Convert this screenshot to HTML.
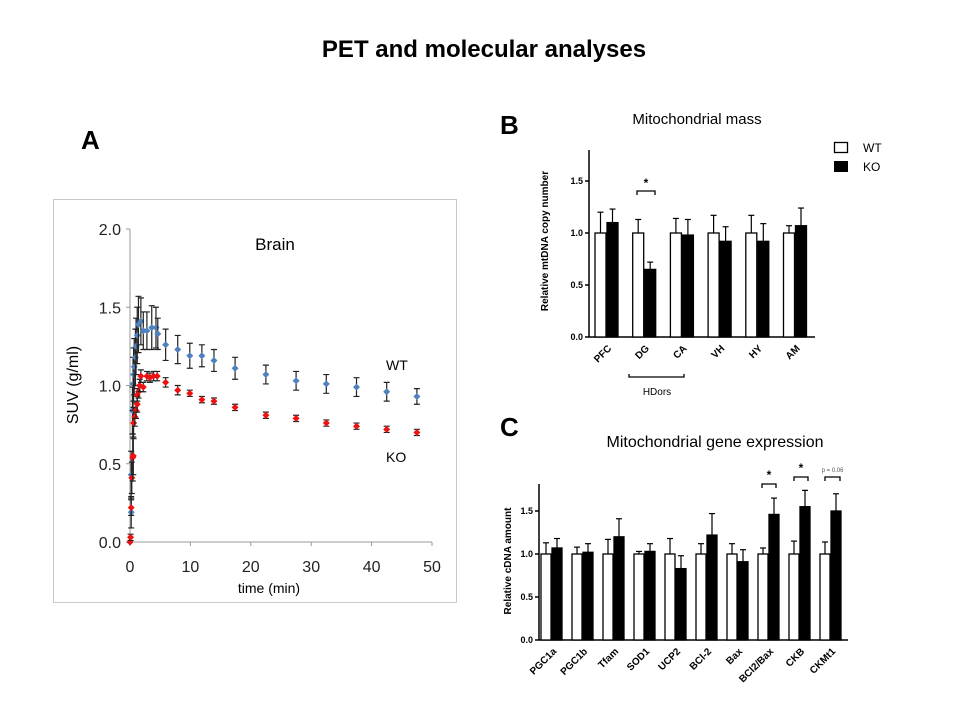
<!DOCTYPE html>
<html><head><meta charset="utf-8"><style>
body{margin:0;background:#fff;width:960px;height:720px;overflow:hidden;font-family:"Liberation Sans",sans-serif}
svg{position:absolute;left:0;top:0}
</style></head><body>
<svg id="s" width="960" height="720" xmlns="http://www.w3.org/2000/svg">
<text x="484" y="57" font-size="24" font-weight="bold" text-anchor="middle">PET and molecular analyses</text>
<text x="81" y="149" font-size="26" font-weight="bold">A</text>
<text x="500" y="134" font-size="26" font-weight="bold">B</text>
<text x="500" y="436" font-size="26" font-weight="bold">C</text>
<rect x="53.5" y="199.5" width="403" height="403" fill="#fff" stroke="#c8c8c8"/>
<text x="275" y="250" font-size="17" text-anchor="middle">Brain</text>
<text x="697" y="124" font-size="15" text-anchor="middle">Mitochondrial mass</text>
<text x="715" y="447" font-size="16" text-anchor="middle">Mitochondrial gene expression</text>
<g id="ga"></g>
<g id="gb"></g>
<g id="gc"></g>
</svg>
<script>
// Panel A data
const timeWT=[0,0.2,0.2,0.4,0.5,0.6,0.7,0.9,1.0,1.2,1.4,1.8,2.2,2.8,3.6,4.3,4.6,5.9,7.9,9.9,11.9,13.9,17.4,22.5,27.5,32.5,37.5,42.5,47.5];
const suvWT=[0.0,0.19,0.43,0.84,1.01,1.07,1.12,1.18,1.25,1.32,1.39,1.41,1.35,1.35,1.37,1.37,1.33,1.26,1.23,1.19,1.19,1.16,1.11,1.07,1.03,1.01,0.99,0.96,0.93];
const errWT=[0,0.1,0.15,0.15,0.17,0.17,0.18,0.18,0.18,0.18,0.18,0.15,0.12,0.12,0.14,0.13,0.1,0.1,0.09,0.08,0.07,0.07,0.07,0.06,0.06,0.06,0.06,0.06,0.05];
const timeKO=[0,0.1,0.2,0.3,0.45,0.55,0.6,0.8,1.0,1.2,1.2,1.4,1.6,1.8,2.2,2.8,3.3,3.9,4.5,5.9,7.9,9.9,11.9,13.9,17.4,22.5,27.5,32.5,37.5,42.5,47.5];
const suvKO=[0.0,0.03,0.22,0.41,0.54,0.55,0.76,0.8,0.84,0.88,0.94,0.96,1.0,1.06,0.99,1.06,1.05,1.06,1.06,1.02,0.97,0.95,0.91,0.9,0.86,0.81,0.79,0.76,0.74,0.72,0.7];
const errKO=[0,0.02,0.05,0.1,0.15,0.12,0.1,0.06,0.05,0.05,0.04,0.04,0.04,0.04,0.03,0.03,0.03,0.03,0.03,0.03,0.03,0.02,0.02,0.02,0.02,0.02,0.02,0.02,0.02,0.02,0.02];
const ticksAX=[0,10,20,30,40,50];
const ticksAY=[0.0,0.5,1.0,1.5,2.0];
// Panel B data
const catsB=["PFC","DG","CA","VH","HY","AM"];
const wtB=[1,1,1,1,1,1];
const wtErrB=[0.2,0.13,0.14,0.17,0.17,0.07];
const koB=[1.1,0.65,0.98,0.92,0.92,1.07];
const koErrB=[0.13,0.07,0.15,0.14,0.17,0.17];
const ticksB=[0.0,0.5,1.0,1.5];
// Panel C data
const catsC=["PGC1a","PGC1b","Tfam","SOD1","UCP2","BCl-2","Bax","BCl2/Bax","CKB","CKMt1"];
const wtC=[1,1,1,1,1,1,1,1,1,1];
const wtErrC=[0.13,0.08,0.17,0.03,0.18,0.12,0.12,0.07,0.15,0.14];
const koC=[1.07,1.02,1.2,1.03,0.83,1.22,0.91,1.46,1.55,1.5];
const koErrC=[0.11,0.1,0.21,0.09,0.15,0.25,0.14,0.19,0.19,0.2];
const ticksC=[0.0,0.5,1.0,1.5];

const NS="http://www.w3.org/2000/svg";
function mk(p,t,a,txt){const e=document.createElementNS(NS,t);for(const k in a)e.setAttribute(k,a[k]);if(txt!==undefined)e.textContent=txt;p.appendChild(e);return e;}

// ---- Panel A
const ga=document.getElementById('ga');
const ax=t=>130+t*(432-130)/50, ay=v=>542-v*(542-229)/2;
mk(ga,'line',{x1:130,y1:229,x2:130,y2:542,stroke:'#999'});
mk(ga,'line',{x1:130,y1:542,x2:432,y2:542,stroke:'#999'});
ticksAY.forEach(v=>{mk(ga,'line',{x1:126,y1:ay(v),x2:130,y2:ay(v),stroke:'#999'});
 const t=mk(ga,'text',{x:121,y:ay(v)+6,'font-size':16,'text-anchor':'end',fill:'#222'},v.toFixed(1));
 });
ticksAX.forEach(v=>{mk(ga,'line',{x1:ax(v),y1:542,x2:ax(v),y2:546,stroke:'#999'});
 const t=mk(ga,'text',{x:ax(v),y:572,'font-size':16,'text-anchor':'middle',fill:'#222'},v);
 });
let xt=mk(ga,'text',{x:269,y:593,'font-size':14,'text-anchor':'middle'},'time (min)');

let yt=mk(ga,'text',{x:0,y:0,'font-size':16,'text-anchor':'middle',transform:'translate(78,385) rotate(-90)'},'SUV (g/ml)');

function series(ts,vs,es,col,name){
 ts.forEach((t,i)=>{const x=ax(t),y=ay(vs[i]),e=es[i]*(313/2);
  if(e>0){mk(ga,'path',{d:`M${x} ${y-e}V${y+e}M${x-3} ${y-e}H${x+3}M${x-3} ${y+e}H${x+3}`,stroke:'#222','stroke-width':1.2,fill:'none'});}
  const p=mk(ga,'path',{d:`M${x} ${y-3.5}L${x+3.5} ${y}L${x} ${y+3.5}L${x-3.5} ${y}Z`,fill:col});
  });
}
series(timeWT,suvWT,errWT,'#4f81bd','wt-point');
series(timeKO,suvKO,errKO,'#ee1111','ko-point');
let l1=mk(ga,'text',{x:386,y:370,'font-size':14},'WT');
let l2=mk(ga,'text',{x:386,y:462,'font-size':14},'KO');

// ---- bar chart helper
function bars(g,cats,wt,we,ko,ke,ticks,o){
 const by=v=>o.y0-v*o.k;
 mk(g,'line',{x1:o.x0,y1:o.top,x2:o.x0,y2:o.y0,stroke:'#000','stroke-width':1.5});
 mk(g,'line',{x1:o.x0,y1:o.y0,x2:o.xe,y2:o.y0,stroke:'#000','stroke-width':1.5});
 ticks.forEach(v=>{mk(g,'line',{x1:o.x0-4,y1:by(v),x2:o.x0,y2:by(v),stroke:'#000','stroke-width':1.5});
  const t=mk(g,'text',{x:o.x0-6,y:by(v)+3,'font-size':9,'font-weight':'bold','text-anchor':'end'},v.toFixed(1));
  });
 cats.forEach((c,i)=>{const gx=o.g0+i*o.sp;
  [[wt[i],we[i],'#fff',0],[ko[i],ke[i],'#000',o.bw+1]].forEach(([v,e,f,dx],j)=>{
   const x=gx+dx,y=by(v),cx=x+o.bw/2,ey=by(v+e);
   mk(g,'line',{x1:cx,y1:y,x2:cx,y2:ey,stroke:'#000','stroke-width':1.2});
   mk(g,'line',{x1:cx-3,y1:ey,x2:cx+3,y2:ey,stroke:'#000','stroke-width':1.2});
   const r=mk(g,'rect',{x:x,y:y,width:o.bw,height:o.y0-y,fill:f,stroke:'#000','stroke-width':1.3});
   });
  const lx=gx+o.bw+3,ly=o.y0+8;
  const t=mk(g,'text',{x:0,y:0,'font-size':10,'font-weight':'bold','text-anchor':'end',transform:`translate(${lx+3},${ly+4}) rotate(-45)`},c);
  });
 return by;
}
const gb=document.getElementById('gb');
bars(gb,catsB,wtB,wtErrB,koB,koErrB,ticksB,{x0:589,y0:337,top:150,xe:815,k:104,g0:595,sp:37.7,bw:11});
let ybt=mk(gb,'text',{x:0,y:0,'font-size':10,'font-weight':'bold','text-anchor':'middle',transform:'translate(548,241) rotate(-90)'},'Relative  mtDNA copy number');

mk(gb,'path',{d:'M637 195V191H655V195',stroke:'#000','stroke-width':1.3,fill:'none'});
mk(gb,'text',{x:646,y:187,'font-size':12,'font-weight':'bold','text-anchor':'middle'},'*');
mk(gb,'path',{d:'M629 374V377H684V374',stroke:'#000','stroke-width':1.3,fill:'none'});
let hd=mk(gb,'text',{x:657,y:395,'font-size':10,'text-anchor':'middle'},'HDors');
let lg1=mk(gb,'rect',{x:834.5,y:142.5,width:13,height:10,fill:'#fff',stroke:'#000','stroke-width':1.3});
let lg2=mk(gb,'rect',{x:834,y:161,width:14,height:11,fill:'#000'});
let lt1=mk(gb,'text',{x:863,y:152,'font-size':12},'WT');
let lt2=mk(gb,'text',{x:863,y:171,'font-size':12},'KO');

const gc=document.getElementById('gc');
bars(gc,catsC,wtC,wtErrC,koC,koErrC,ticksC,{x0:539,y0:640,top:484,xe:848,k:86,g0:541,sp:31,bw:10});
let yct=mk(gc,'text',{x:0,y:0,'font-size':10,'font-weight':'bold','text-anchor':'middle',transform:'translate(511,561) rotate(-90)'},'Relative cDNA amount');

[[762,776,'*'],[794,808,'*'],[825,840,'p = 0.06']].forEach(([a,b,s],i)=>{
 const y=i==0?484:477;
 mk(gc,'path',{d:`M${a} ${y+4}V${y}H${b}V${y+4}`,stroke:'#000','stroke-width':1.3,fill:'none'});
 mk(gc,'text',{x:(a+b)/2,y:y-5,'font-size':s=='*'?12:6,'font-weight':s=='*'?'bold':'normal','text-anchor':'middle',fill:s=='*'?'#000':'#555'},s);
});
</script>
</body></html>
